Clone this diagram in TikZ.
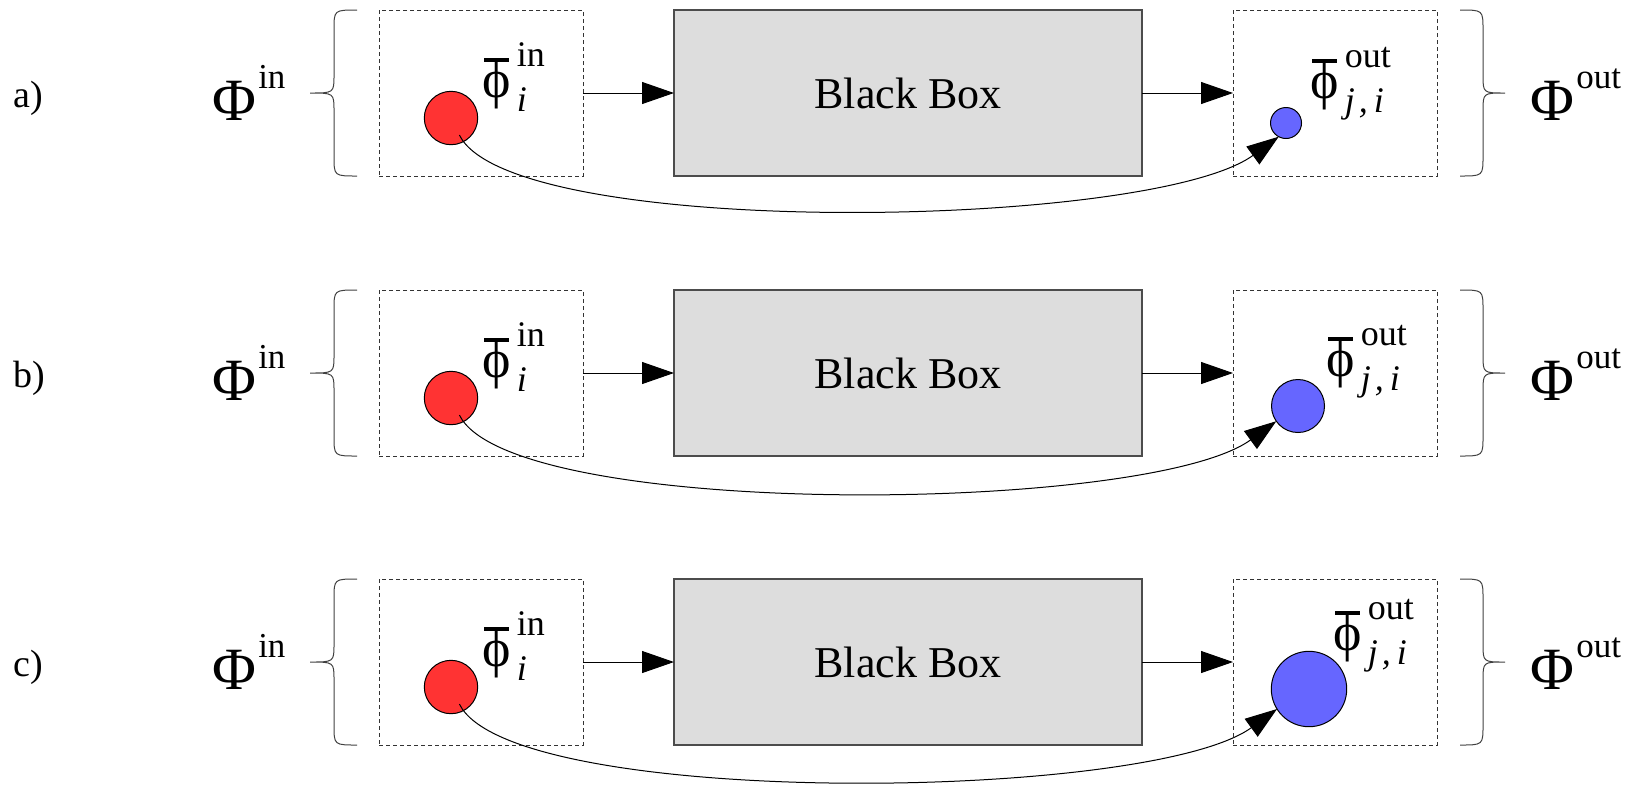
\documentclass[tikz,border=0pt]{standalone}
\usepackage{fontspec}
\setmainfont{Liberation Serif}
\usetikzlibrary{arrows.meta}
\definecolor{redfill}{HTML}{FF3333}
\definecolor{bluefill}{HTML}{6666FF}
\definecolor{boxfill}{HTML}{DDDDDD}
\newcommand{\phibar}{\ooalign{ϕ\cr\hidewidth\rule[0.64em]{0.46em}{0.075em}\hidewidth\cr}}
\newcommand{\philabel}[2]{{\fontsize{27}{27}\selectfont\phibar}\kern3pt\rlap{\raisebox{15.5pt}{\fontsize{18}{18}\selectfont #1}}\raisebox{-7pt}{\fontsize{18}{18}\selectfont\itshape #2}}
\newcommand{\bigphi}[1]{{\fontsize{30}{30}\selectfont Φ}\kern1pt\raisebox{16pt}{\fontsize{17.5}{18}\selectfont #1}}
\newcommand{\leftbracepath}[1]{%
  \draw[bracestyle] (357,#1) .. controls (334,#1) .. (334,{#1+20}) -- (334,{#1+65})
    .. controls (334,{#1+83}) .. (310,{#1+83}) .. controls (334,{#1+83}) .. (334,{#1+101})
    -- (334,{#1+146}) .. controls (334,{#1+166}) .. (357,{#1+166});}
\newcommand{\rightbracepath}[1]{%
  \draw[bracestyle] (1460,#1) .. controls (1483,#1) .. (1483,{#1+20}) -- (1483,{#1+65})
    .. controls (1483,{#1+83}) .. (1505,{#1+83}) .. controls (1483,{#1+83}) .. (1483,{#1+101})
    -- (1483,{#1+146}) .. controls (1483,{#1+166}) .. (1460,{#1+166});}
\begin{document}
\begin{tikzpicture}[x=0.5pt,y=-0.5pt,
  dbox/.style={draw=black!80, line width=0.5pt, dash pattern=on 2pt off 1.5pt, minimum width=102pt, minimum height=83pt, inner sep=0pt, outer sep=0pt},
  blackbox/.style={draw=black!70, line width=0.9pt, fill=boxfill, minimum width=234pt, minimum height=83pt, inner sep=0pt, outer sep=0pt, font=\fontsize{22}{22}\selectfont},
  incircle/.style={circle, draw=black, line width=0.5pt, fill=redfill, minimum size=26.7pt, inner sep=0pt, outer sep=0pt},
  outcircle/.style={circle, draw=black, line width=0.5pt, fill=bluefill, inner sep=0pt, outer sep=0pt},
  arr/.style={line width=0.5pt, -{Triangle[length=16pt,width=11pt]}},
  bracestyle/.style={draw=black!75, line width=0.5pt},
  rowlab/.style={font=\fontsize{19}{19}\selectfont, inner sep=0pt, anchor=base west},
  txt/.style={inner sep=0pt, anchor=base west}
]
\useasboundingbox (0,0) rectangle (1641,784);
\foreach \r/\top/\bs/\bx/\by/\lx/\ly/\ang in
  {a/10/15.5/1286/123/1310/98/242, b/290/26.5/1298/406/1326/376/215, c/579/37.7/1309/689/1333/650/212}{
  \pgfmathsetmacro{\mid}{\top+83}
  \node[rowlab] (lab\r) at (13,{\mid+14}) {\r)};
  \node[txt] (Pin\r) at (212,{\mid+27}) {\bigphi{in}};
  \leftbracepath{\top}
  \node[dbox] (inbox\r) at (481,\mid) {};
  \node[blackbox] (bb\r) at (908,\mid) {Black Box};
  \node[dbox] (outbox\r) at (1335,\mid) {};
  \rightbracepath{\top}
  \node[txt] (Pout\r) at (1530,{\mid+27}) {\bigphi{out}};
  \node[incircle] (rin\r) at (451,{\top+108}) {};
  \node[outcircle, minimum size=\bs pt] (bout\r) at (\bx,\by) {};
  \node[txt] (phin\r) at (482,{\top+87}) {\philabel{in}{i}};
  \node[txt] (phout\r) at (\lx,\ly) {\philabel{out}{j\kern2pt,\kern3pt i}};
  \draw[arr] (inbox\r.east) -- (bb\r.west);
  \draw[arr] (bb\r.east) -- (outbox\r.west);
  \draw[arr, shorten <=9.5pt] (rin\r.center) .. controls +(60,122) and +(-128,93) .. (bout\r.\ang);
}
\end{tikzpicture}
\end{document}
